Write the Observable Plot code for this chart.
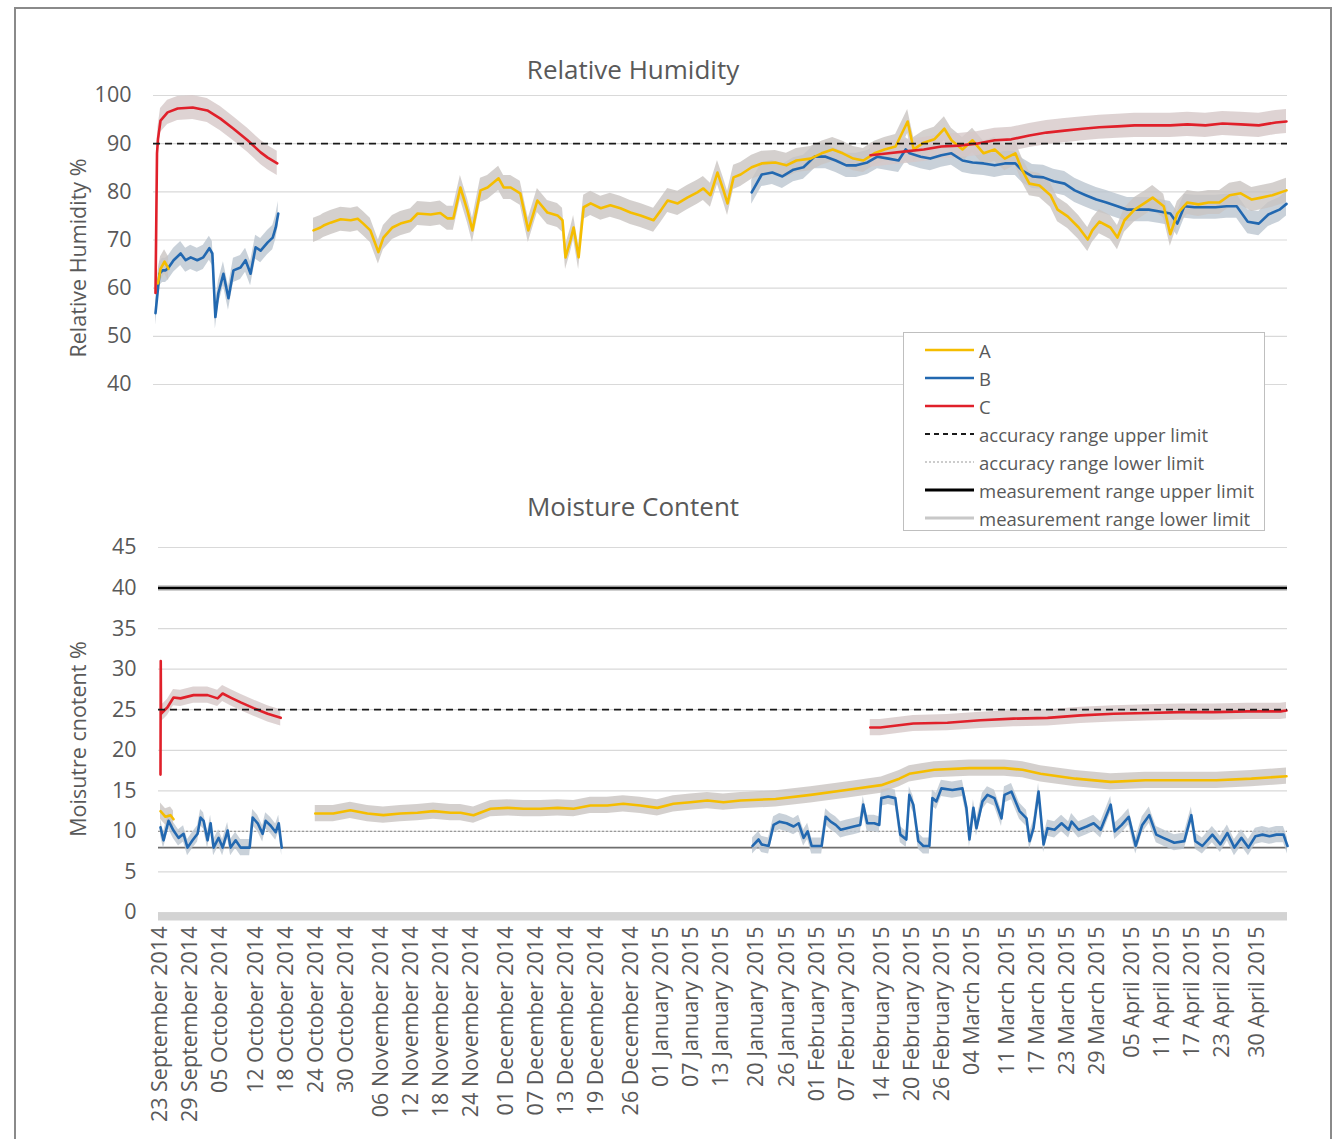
<!DOCTYPE html>
<html>
<head>
<meta charset="utf-8">
<script src="https://cdn.jsdelivr.net/npm/d3@7"></script>
<script src="https://cdn.jsdelivr.net/npm/@observablehq/plot@0.6"></script>
<style>
  html, body { margin: 0; padding: 0; background: #fff; }
  body { width: 1344px; height: 1139px; position: relative; overflow: hidden; font-family: "Open Sans", sans-serif; color: #595959; }
  .frame { position: absolute; left: 14px; top: 7px; width: 1318px; height: 1200px; border: 2px solid #8a8a8a; box-sizing: border-box; }
  .panel { position: absolute; left: 0; }
  .title { position: absolute; transform: translate(-50%, -50%); font-size: 26px; white-space: nowrap; color: #595959; }
  .ylab { position: absolute; transform: translate(-50%, -50%) rotate(-90deg); font-size: 21.5px; white-space: nowrap; color: #595959; }
  .legend { position: absolute; left: 903px; top: 332px; width: 362px; height: 199px; border: 1px solid #bfbfbf; background: #fff; box-sizing: border-box; z-index: 5; }
  .legend .row { position: absolute; left: 21px; height: 28px; display: flex; align-items: center; font-size: 18.5px; color: #595959; white-space: nowrap; }
  .legend svg { margin-right: 5px; }
</style>
</head>
<body>
<div class="frame"></div>
<div id="top" class="panel" style="top:0px"></div>
<div id="bottom" class="panel" style="top:440px"></div>
<div class="title" style="left:633px; top:69px">Relative Humidity</div>
<div class="title" style="left:633px; top:506px">Moisture Content</div>
<div class="ylab" style="left:77px; top:258px">Relative Humidity %</div>
<div class="ylab" style="left:77px; top:739px">Moisutre cnotent %</div>
<div class="legend" id="legend"></div>
<script>
// Readings as [days since 23 September 2014, value]

// Relative humidity (%)
const rhA1 = [[0.5,61],[1,64],[1.8,65.5],[2.6,64]];
const rhA2 = [[31.4,72],[32.8,72.6],[33.4,73],[34.8,73.6],[36.8,74.3],[38.8,74.1],[40.2,74.4],[41.3,73.4],[42.7,72],[44.3,67.5],[45.3,70.5],[47.1,72.6],[48.7,73.4],[50.7,74],[52.1,75.5],[54.7,75.3],[56.6,75.6],[58,74.5],[59.2,74.5],[60.6,80.9],[62,76.1],[63,72],[64.6,80.3],[66,80.9],[68.2,82.8],[69.2,80.9],[70.6,80.9],[72.5,79.7],[74.1,72],[75.9,78.2],[77.9,75.7],[79.9,75.1],[80.9,74.1],[81.5,66.4],[82.5,70],[83.1,72.6],[84.1,66.4],[85.1,76.8],[86.5,77.6],[88.5,76.6],[90.4,77.2],[92.4,76.6],[94.4,75.7],[96.4,75.1],[99,74.1],[100.4,76.1],[101.8,78.2],[103.8,77.6],[105.7,78.8],[107.7,79.9],[108.9,80.7],[110.3,79.3],[111.7,84],[112.9,80.3],[113.7,77.6],[114.9,83],[116.3,83.6],[118.5,85.1],[120.5,85.9],[123.2,86.1],[125.4,85.5],[127.4,86.5],[130.2,86.9],[132.4,88],[134.6,88.8],[136.6,88],[138.7,86.9],[140.7,86.5],[142.9,88],[144.9,88.8],[147.1,89.4],[149.5,94.6],[150.7,88.8],[152.7,90.2],[154.8,90.9],[156.8,93.1],[158.2,90.7],[160.4,88.8],[162.4,90.7],[164.6,88],[166.8,88.8],[168.8,86.9],[170.9,88],[172.3,84.4],[173.7,81.7],[175.7,81.3],[177.9,79.3],[179.3,76.3],[181.3,74.9],[183.5,72.6],[185.3,70.1],[186.2,72],[187.6,73.8],[189.8,72.6],[191.2,70.5],[192.6,74.1],[194.6,76.3],[196.8,77.8],[198.2,78.8],[200.4,77],[201.7,71.2],[203.1,75.5],[205.1,77.8],[207.3,77.4],[209.3,77.8],[211.5,77.8],[213.5,79.3],[215.7,79.7],[217.9,78.4],[219.8,78.8],[222,79.3],[224.8,80.3]];
const rhB1 = [[0,54.8],[0.4,58.9],[0.8,63],[1.4,63.7],[2,63.7],[2.6,64.3],[3.6,65.8],[5,67.2],[6,65.8],[7,66.4],[8.3,65.8],[9.5,66.4],[10.7,68.3],[11.3,67.2],[11.9,54],[12.5,59],[13.5,63],[14.5,57.9],[15.5,63.7],[16.9,64.3],[17.9,65.8],[18.9,63],[19.9,68.5],[20.9,67.8],[22.3,69.5],[23.3,70.5],[23.9,72.6],[24.4,75.5]];
const rhB2 = [[118.5,79.9],[120.5,83.6],[122.6,84],[124.6,83.2],[126.8,84.6],[128.8,85.1],[131,87.3],[133.2,87.3],[135.2,86.5],[137.3,85.5],[139.3,85.5],[141.5,86.1],[143.5,87.3],[145.7,86.9],[147.7,86.5],[149.1,88.8],[149.9,88],[152.1,87.3],[154,86.9],[156.2,87.6],[158.2,88],[160.4,86.5],[162.4,86.1],[164.6,85.9],[166.8,85.5],[168.8,85.9],[170.9,85.9],[172.3,84.4],[174.3,83.2],[176.5,83],[178.5,82.2],[180.7,81.7],[182.7,80.3],[184.9,79.3],[187,78.4],[189,77.8],[191.2,77],[193.2,76.3],[195.4,76.3],[197.4,76.3],[199.6,75.9],[201.7,75.5],[203.1,73.4],[204.5,77],[206.5,76.8],[208.7,76.8],[210.7,76.8],[212.9,77],[214.9,77],[217.1,73.8],[219.3,73.4],[221.2,75.3],[223.4,76.3],[224.8,77.5]];
const rhC1 = [[0,59],[0.3,88],[0.5,91],[1,94.8],[2.4,96.5],[4.4,97.3],[7.4,97.5],[10.3,96.9],[12.9,95.2],[15.5,93.1],[18.3,90.7],[20.9,88.2],[22.3,87.1],[24.2,85.9]];
const rhC2 = [[142.1,87.6],[145.7,88],[149.1,88.4],[152.7,88.8],[156.2,89.4],[159.6,89.6],[163.2,90],[166.8,90.7],[170.1,90.9],[173.7,91.7],[177.1,92.3],[180.7,92.7],[184.3,93.1],[187.6,93.4],[191.2,93.6],[194.6,93.8],[198.2,93.8],[201.7,93.8],[205.1,94],[208.7,93.8],[212.1,94.2],[215.7,94],[219.3,93.8],[222.7,94.4],[224.8,94.6]];

// Moisture content (%)
const mcA1 = [[0,12.5],[1,11.8],[2,12],[2.6,11.5]];
const mcA2 = [[30.9,12.2],[34.5,12.2],[37.9,12.6],[41.3,12.2],[44.5,12],[47.9,12.2],[51.3,12.3],[54.5,12.5],[57.9,12.3],[59.9,12.3],[62.5,12],[65.9,12.8],[69.3,12.9],[72.5,12.8],[75.9,12.8],[79.3,12.9],[82.5,12.8],[85.8,13.2],[89.2,13.2],[92.4,13.4],[95.8,13.2],[99.2,12.9],[102.4,13.4],[105.8,13.6],[109.2,13.8],[112.4,13.6],[115.8,13.8],[122.8,14],[129.8,14.5],[136.9,15.1],[143.9,15.7],[147.5,16.5],[149.5,17.1],[154.5,17.6],[161.5,17.8],[168.5,17.8],[172.1,17.6],[175.7,17.1],[182.7,16.5],[189.7,16.1],[196.6,16.3],[203.8,16.3],[210.8,16.3],[217.8,16.5],[224.8,16.8]];
const mcB1 = [[0,10.5],[0.6,8.9],[1.6,11.3],[2.6,10.1],[3.6,9.2],[4.6,9.7],[5.4,8],[6.4,8.9],[7.4,9.7],[8,11.7],[8.6,11.3],[9.4,8.9],[10,11],[10.6,8],[11.6,9.2],[12.4,8],[13.4,10.1],[14,8],[15,8.9],[16,8],[17,8],[17.8,8],[18.4,11.7],[19.4,11],[20.4,9.7],[21,11.3],[22,10.7],[23,9.9],[23.6,11],[24.2,8]];
const mcB2 = [[118.2,8.2],[119.4,9],[120,8.4],[121.4,8.2],[122.4,10.8],[123.6,11.2],[125,11],[126.4,10.6],[127.4,11],[128.4,9.2],[129.2,10],[130,8.2],[132,8.2],[132.8,11.8],[133.8,11.2],[134.8,10.8],[135.8,10.2],[137,10.4],[138.4,10.6],[139.7,10.8],[140.3,13.3],[141.1,11],[142.5,11],[143.5,10.8],[143.9,14.1],[145.3,14.3],[146.7,14.1],[147.7,9.6],[148.9,9],[149.5,14.5],[150.3,13.3],[151.3,8.8],[152.3,8.2],[153.5,8.2],[154.1,14.1],[154.9,13.7],[155.9,15.3],[158.1,15.1],[160.1,15.3],[160.9,12.9],[161.5,9],[162.3,12.9],[162.9,10.4],[164.1,13.7],[165.1,14.5],[166.5,14.1],[167.9,11.6],[168.5,14.5],[169.9,14.9],[171.5,12.5],[172.9,11.6],[173.5,8.8],[174.3,10.4],[175.3,14.9],[176.3,8.4],[177.1,10.4],[178.5,10.2],[179.9,11],[181.3,10.2],[181.9,11.2],[183.3,10.2],[184.9,10.6],[186.3,11],[187.7,10.2],[189.7,13.3],[190.5,10],[191.9,10.8],[193.3,11.8],[194.7,8.2],[196,10.8],[197.4,12],[198.8,9.6],[200.2,9.2],[202.4,8.6],[204.4,8.8],[205.8,12],[206.6,8.8],[208,8.2],[210,9.6],[211.6,8.4],[213,9.8],[214.4,8],[215.8,9.2],[217.2,8],[218.6,9.4],[220,9.6],[221.4,9.4],[222.8,9.6],[224.2,9.6],[225,8.2]];
const mcC1 = [[0,17],[0.05,31],[0.1,24.5],[1.4,25.3],[2.6,26.5],[4,26.4],[6.6,26.8],[9.4,26.8],[11.4,26.4],[12.4,27],[14,26.5],[16,25.9],[18.6,25.2],[21.4,24.5],[24,24]];
const mcC2 = [[141.7,22.8],[143.7,22.8],[150.3,23.3],[157.1,23.4],[163.7,23.7],[170.3,23.9],[177.1,24],[183.7,24.3],[190.3,24.5],[197,24.6],[203.6,24.7],[210.2,24.7],[217,24.8],[223.6,24.8],[224.8,24.9]];

// Sensor limits
const rhAccuracyUpper = 90;
const mcAccuracyUpper = 25;
const mcAccuracyLower = 10;
const mcMeasurementUpper = 40;
const mcMeasurementLower = 0;
const mcSensorFloor = 8;

// Axis ticks
const rhTicks = [40, 50, 60, 70, 80, 90, 100];
const mcTicks = [0, 5, 10, 15, 20, 25, 30, 35, 40, 45];
const dateTicks = ["2014-09-23","2014-09-29","2014-10-05","2014-10-12","2014-10-18","2014-10-24","2014-10-30","2014-11-06","2014-11-12","2014-11-18","2014-11-24","2014-12-01","2014-12-07","2014-12-13","2014-12-19","2014-12-26","2015-01-01","2015-01-07","2015-01-13","2015-01-20","2015-01-26","2015-02-01","2015-02-07","2015-02-14","2015-02-20","2015-02-26","2015-03-04","2015-03-11","2015-03-17","2015-03-23","2015-03-29","2015-04-05","2015-04-11","2015-04-17","2015-04-23","2015-04-30"];

const seriesNames = ["A", "B", "C"];
const seriesColors = ["#f5bd00", "#2268b0", "#e0202a"];
const bandColors = ["#c9c4c2", "#bcc5d0", "#d6c8c8"];

const DAY0 = Date.UTC(2014, 8, 23);
const toDate = d => new Date(DAY0 + d * 864e5);
const xDomain = [toDate(0), toDate(225)];

function table(segments, halfWidth) {
  const out = [];
  segments.forEach(([name, seg, arr]) => {
    arr.forEach(([d, v]) => out.push({name, seg, date: toDate(d), v, lo: v - halfWidth, hi: v + halfWidth}));
  });
  return out;
}

const rhRows = table([["B","B1",rhB1],["B","B2",rhB2],["A","A1",rhA1],["A","A2",rhA2],["C","C1",rhC1],["C","C2",rhC2]], 2.5);
const mcRows = table([["B","B1",mcB1],["B","B2",mcB2],["A","A1",mcA1],["A","A2",mcA2],["C","C1",mcC1],["C","C2",mcC2]], 1.0);

const colorOf = n => seriesColors[seriesNames.indexOf(n)];
const bandOf = n => bandColors[seriesNames.indexOf(n)];

function seriesMarks(rows, bandOpacity) {
  const marks = [];
  for (const n of ["B", "A", "C"]) {
    marks.push(Plot.areaY(rows.filter(r => r.name === n), {x: "date", y1: "lo", y2: "hi", z: "seg", fill: bandOf(n), fillOpacity: bandOpacity, curve: "linear"}));
  }
  for (const n of ["B", "A", "C"]) {
    marks.push(Plot.lineY(rows.filter(r => r.name === n), {x: "date", y: "v", z: "seg", stroke: colorOf(n), strokeWidth: 2.6, strokeLinejoin: "round"}));
  }
  return marks;
}

const axisFont = {fontSize: "21.5px", fontFamily: "Open Sans, sans-serif"};

const topChart = Plot.plot({
  width: 1344, height: 400,
  marginLeft: 153, marginRight: 57, marginTop: 95, marginBottom: 16,
  style: {...axisFont, color: "#595959", background: "transparent", overflow: "visible"},
  x: {type: "utc", domain: xDomain, insetLeft: 2, axis: null},
  y: {domain: [40, 100]},
  marks: [
    Plot.ruleY(rhTicks, {stroke: "#d9d9d9", strokeWidth: 1.2}),
    Plot.axisY({ticks: rhTicks, tickSize: 0, tickPadding: 22, fill: "#595959", label: null}),
    ...seriesMarks(rhRows, 0.8),
    Plot.ruleY([rhAccuracyUpper], {stroke: "#1a1a1a", strokeWidth: 1.8, strokeDasharray: "7,5"})
  ]
});
document.getElementById("top").appendChild(topChart);

const fmt = d3.utcFormat("%d %B %Y");
const bottomChart = Plot.plot({
  width: 1344, height: 699,
  marginLeft: 158, marginRight: 57, marginTop: 107, marginBottom: 227,
  style: {...axisFont, color: "#595959", background: "transparent", overflow: "visible"},
  x: {type: "utc", domain: xDomain, insetLeft: 2},
  y: {domain: [0, 45]},
  marks: [
    Plot.ruleY(mcTicks, {stroke: "#d9d9d9", strokeWidth: 1.2}),
    Plot.axisY({ticks: mcTicks, tickSize: 0, tickPadding: 22, fill: "#595959", label: null}),
    Plot.axisX({ticks: dateTicks.map(s => new Date(s)), tickFormat: fmt, tickRotate: -90, tickSize: 0, tickPadding: 14, fill: "#595959", label: null}),
    Plot.ruleY([mcMeasurementLower], {stroke: "#d3d3d3", strokeWidth: 8, dy: 4}),
    Plot.ruleY([mcSensorFloor], {stroke: "#6e6e6e", strokeWidth: 1.8}),
    Plot.ruleY([mcAccuracyLower], {stroke: "#9a9a9a", strokeWidth: 1.2, strokeDasharray: "2,2"}),
    ...seriesMarks(mcRows, 0.8),
    Plot.ruleY([mcMeasurementUpper], {stroke: "#cfcfcf", strokeWidth: 6}),
    Plot.ruleY([mcMeasurementUpper], {stroke: "#000", strokeWidth: 2.6}),
    Plot.ruleY([mcAccuracyUpper], {stroke: "#1a1a1a", strokeWidth: 1.8, strokeDasharray: "7,5"})
  ]
});
document.getElementById("bottom").appendChild(bottomChart);

// Legend
const legendItems = [
  {label: "A", stroke: seriesColors[0], width: 2.5, dash: null},
  {label: "B", stroke: seriesColors[1], width: 2.5, dash: null},
  {label: "C", stroke: seriesColors[2], width: 2.5, dash: null},
  {label: "accuracy range upper limit", stroke: "#1a1a1a", width: 1.8, dash: "5,4"},
  {label: "accuracy range lower limit", stroke: "#9a9a9a", width: 1.2, dash: "2,2"},
  {label: "measurement range upper limit", stroke: "#000", width: 2.8, dash: null},
  {label: "measurement range lower limit", stroke: "#c8c8c8", width: 3, dash: null}
];
const legend = document.getElementById("legend");
legendItems.forEach((it, i) => {
  const row = document.createElement("div");
  row.className = "row";
  row.style.top = (3 + i * 28) + "px";
  row.innerHTML = `<svg width="49" height="10"><line x1="0" x2="49" y1="5" y2="5" stroke="${it.stroke}" stroke-width="${it.width}" ${it.dash ? `stroke-dasharray="${it.dash}"` : ""}/></svg><span>${it.label}</span>`;
  legend.appendChild(row);
});
</script>
</body>
</html>
